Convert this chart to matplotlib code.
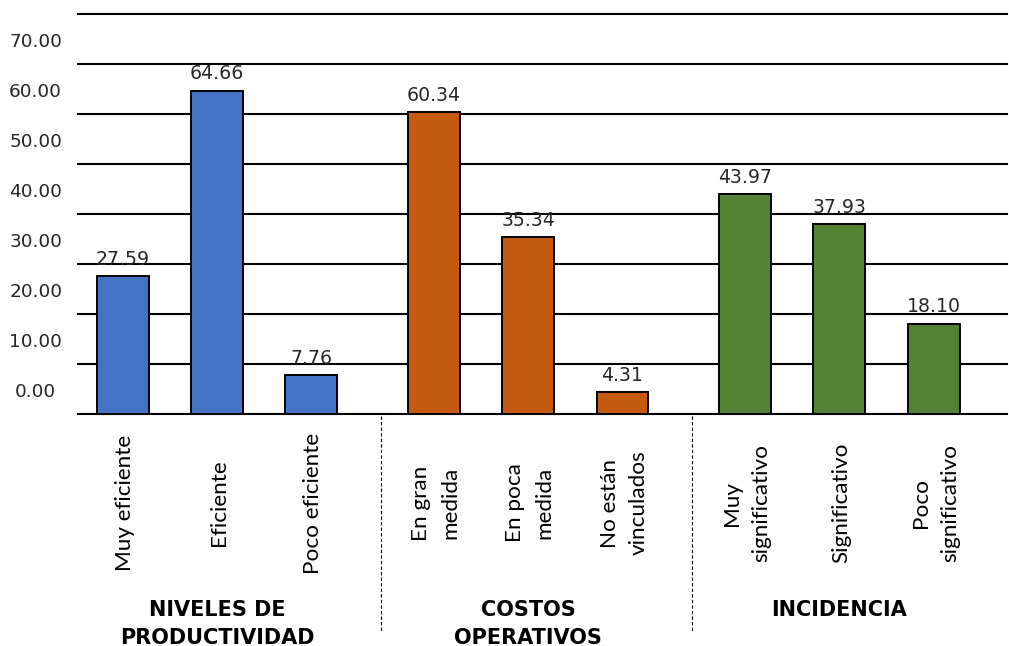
import matplotlib
matplotlib.use("Agg")
import matplotlib.pyplot as plt
import matplotlib.transforms as mtransforms

# ---- data ----
categories = ["Muy eficiente", "Eficiente", "Poco eficiente",
              "En gran\nmedida", "En poca\nmedida", "No están\nvinculados",
              "Muy\nsignificativo", "Significativo", "Poco\nsignificativo"]
values = [27.59, 64.66, 7.76, 60.34, 35.34, 4.31, 43.97, 37.93, 18.10]
group_of = [0, 0, 0, 1, 1, 1, 2, 2, 2]
groups = ["NIVELES DE\nPRODUCTIVIDAD", "COSTOS\nOPERATIVOS", "INCIDENCIA"]
group_colors = ["#4472C4", "#C55A11", "#548235"]
ytick_labels = ["0.00", "10.00", "20.00", "30.00", "40.00", "50.00", "60.00", "70.00"]
grid_values = [0, 10, 20, 30, 40, 50, 60, 70, 80]

W, H = 1009, 646
fig = plt.figure(figsize=(W / 100, H / 100), dpi=100)
ax = fig.add_axes([78 / W, (H - 414) / H, (1007 - 78) / W, 400 / H])

gap = 1.3
xpos = [i + g * (gap - 1) for i, g in enumerate(group_of)]
colors = [group_colors[g] for g in group_of]

for gv in grid_values:
    ax.axhline(gv, color="black", lw=1.5, zorder=1, clip_on=False)

ax.bar(xpos, values, width=0.55, color=colors, edgecolor="black",
       linewidth=1.4, zorder=3)
for x, v in zip(xpos, values):
    ax.text(x, v + 3.4, f"{v:.2f}", ha="center", va="center",
            fontsize=13.6, color="#262626", family="DejaVu Sans")

ax.set_xlim(-0.474, 9.378)
ax.set_ylim(0, 80)
ax.set_yticks([t + 4.8 for t in range(0, 80, 10)])
ax.set_yticklabels(ytick_labels, fontsize=13.3, color="#262626", family="DejaVu Sans")
ax.tick_params(axis="y", length=0, pad=30.5)
for lab in ax.get_yticklabels():
    lab.set_horizontalalignment("center")
ax.set_xticks([])
for s in ax.spines.values():
    s.set_visible(False)

trans = mtransforms.blended_transform_factory(ax.transData, fig.transFigure)
for x, c in zip(xpos, categories):
    ax.text(x + 0.02, 1 - 503 / H, c, rotation=90, ha="center", va="center",
            multialignment="center", fontsize=16.2, family="Lato",
            color="black", transform=trans, clip_on=False, linespacing=1.6)

for g, name in enumerate(groups):
    members = [x for x, gg in zip(xpos, group_of) if gg == g]
    cx = sum(members) / len(members)
    ax.text(cx, 1 - 600 / H, name, ha="center", va="top",
            fontsize=15, fontweight="bold", family="DejaVu Sans", color="black",
            transform=trans, clip_on=False, linespacing=1.5)

# dashed separators between groups
for g in range(len(groups) - 1):
    last = max(x for x, gg in zip(xpos, group_of) if gg == g)
    first = min(x for x, gg in zip(xpos, group_of) if gg == g + 1)
    sx = (last + first) / 2 + 0.09
    ax.plot([sx, sx], [1 - 416 / H, 1 - 632 / H], transform=trans,
            color="black", lw=0.8, ls=(0, (3, 2)), clip_on=False)

fig.savefig("out.png", dpi=100)
